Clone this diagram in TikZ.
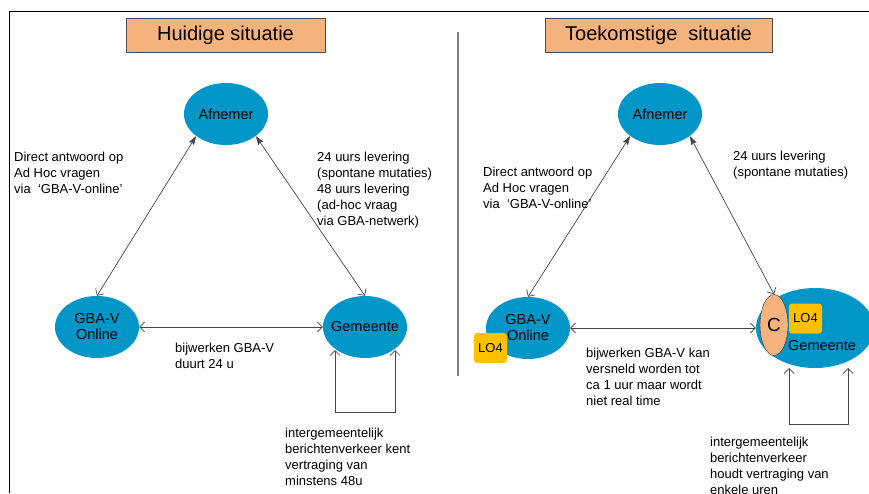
\documentclass[tikz,border=0pt]{standalone}
\usepackage{fontspec}
\setmainfont{Liberation Sans}
\usetikzlibrary{arrows.meta,positioning,shapes.geometric}

\definecolor{gbablue}{RGB}{0,150,200}
\definecolor{kop}{RGB}{245,178,125}
\definecolor{lovier}{RGB}{255,192,0}
\definecolor{pijl}{RGB}{70,70,70}

\tikzset{
	barb/.tip={Straight Barb[length=5pt,width=10pt]},
	head/.tip={Stealth[length=9pt,width=6pt,inset=1.5pt]},
	entity/.style={ellipse,fill=gbablue,inner xsep=-10pt,inner ysep=0pt,minimum width=84pt,minimum height=62pt,align=center,font=\fontsize{14.5}{16}\selectfont},
	kopje/.style={draw=black!70,fill=kop,minimum width=199pt,minimum height=34pt,font=\fontsize{20}{24}\selectfont},
	lo/.style={fill=lovier,rounded corners=3pt,minimum width=33pt,minimum height=30pt,inner sep=0pt,font=\fontsize{13}{14}\selectfont},
	tekst/.style={anchor=north west,inner sep=0pt,align=left,font=\fontsize{13}{16}\selectfont},
	every edge/.style={draw=pijl,line width=0.7pt},
	lus/.style={draw=pijl,line width=0.7pt,barb-barb}
}

\begin{document}
\begin{tikzpicture}[x=1pt,y=-1pt,node distance=268pt]
	\useasboundingbox (0,0) rectangle (869,493);
	\clip (0,0) rectangle (869,493);
	\draw[line width=1pt] (9,493) -- (9,11) -- (869,11);
	\draw[gray,line width=1.5pt] (458,32) -- (458,376);

	% huidige situatie
	\node[kopje] (T1) at (225.5,35) {Huidige situatie};
	\node[entity] (Af) at (226,114) {Afnemer};
	\node[entity] (GB) at (97,327) {GBA-V\\Online};
	\node[entity] (Gm) [right of=GB] {Gemeente};

	\path (GB.north) edge [barb-head] (Af.south west);
	\path (Gm.north) edge [barb-head] (Af.south east);
	\path (GB.east) edge [barb-barb] (Gm.west);
	\draw[lus] ([xshift=-30pt,yshift=-23pt]Gm.center) -- ++(0,62) -| ([xshift=30pt,yshift=-23pt]Gm.center);

	\node[tekst] (L1) at (14,152) {Direct antwoord op\\Ad Hoc vragen\\via\ \ `GBA-V-online'};
	\node[tekst] (L2) at (317,152) {24 uurs levering\\(spontane mutaties)\\48 uurs levering\\(ad-hoc vraag\\via GBA-netwerk)};
	\node[tekst] (L3) at (175,343) {bijwerken GBA-V\\duurt 24 u};
	\node[tekst] (L4) at (285,428) {intergemeentelijk\\berichtenverkeer kent\\vertraging van\\minstens 48u};

	% toekomstige situatie
	\node[kopje,minimum width=227pt] (T2) at (658.5,35) {Toekomstige\ \ situatie};
	\node[entity] (Af2) at (660,114) {Afnemer};
	\node[entity] (GB2) at (528,328) {GBA-V\\Online};
	\node[entity,minimum width=118pt,minimum height=80pt] (Gm2) [right of=GB2,node distance=287pt] {};
	\node[ellipse,draw=black!80,fill=kop,minimum width=28pt,minimum height=61pt,inner sep=0pt,font=\fontsize{19}{20}\selectfont] (C) at (774,325) {C};
	\node[lo] (LO2) at (805.5,318.5) {LO4};
	\node[inner sep=0pt,font=\fontsize{14.5}{16}\selectfont] (GmT) at (822,346) {Gemeente};
	\node[lo] (LO1) at (490.5,348) {LO4};

	\path (GB2.north) edge [barb-head] (Af2.south west);
	\path (C.north) edge [barb-head] (Af2.south east);
	\path (GB2.east) edge [barb-barb] (Gm2.west);
	\draw[lus] ([xshift=-26pt,yshift=-40pt]Gm2.center) -- ++(0,56) -| ([xshift=33pt,yshift=-40pt]Gm2.center);

	\node[tekst] (L5) at (483,167) {Direct antwoord op\\Ad Hoc vragen\\via\ \ `GBA-V-online'};
	\node[tekst] (L6) at (733,151) {24 uurs levering\\(spontane mutaties)};
	\node[tekst] (L7) at (586,348) {bijwerken GBA-V kan\\versneld worden tot\\ca 1 uur maar wordt\\niet real time};
	\node[tekst] (L8) at (710,437) {intergemeentelijk\\berichtenverkeer\\houdt vertraging van\\enkele uren};
\end{tikzpicture}
\end{document}
